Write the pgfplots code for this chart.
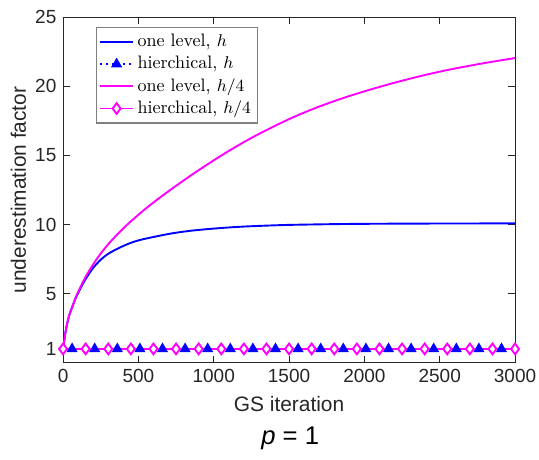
\documentclass[border=0pt]{standalone}
\usepackage{fontspec}
\setsansfont{Liberation Sans}
\usepackage{pgfplots}
\pgfplotsset{compat=1.18}

\definecolor{mblue}{RGB}{0,0,255}
\definecolor{mmag}{RGB}{255,0,255}
\definecolor{axgray}{RGB}{38,38,38}

\pgfplotstableread{
x y
0 1
10 1.75
20 2.45
40 3.4
60 4.0
89 4.8
144 5.95
199 6.85
250 7.45
310 7.95
421 8.55
518 8.9
708 9.33
850 9.55
1018 9.72
1200 9.85
1461 9.96
1700 10.01
1903 10.04
2200 10.06
2500 10.07
3000 10.08
}\onelevelh

\pgfplotstableread{
x y
0 1
10 1.75
20 2.45
40 3.4
60 4.0
89 4.85
144 6.1
199 7.1
250 7.9
310 8.7
380 9.5
443 10.16
550 11.16
664 12.12
775 12.99
885 13.82
1000 14.64
1106 15.36
1220 16.08
1327 16.70
1440 17.31
1549 17.86
1660 18.36
1770 18.81
1880 19.22
1991 19.60
2100 19.95
2212 20.29
2367 20.72
2490 21.03
2610 21.30
2800 21.68
3000 22.04
}\onelevelhq

\begin{document}
\begin{tikzpicture}
\begin{axis}[
    scale only axis,
    width=238pt,
    height=182pt,
    xmin=0, xmax=3000,
    ymin=0, ymax=25,
    xtick={0,500,1000,1500,2000,2500,3000},
    ytick={1,5,10,15,20,25},
    scaled x ticks=false,
    tick align=inside,
    major tick length=3.5pt,
    axis line style={axgray},
    every tick/.style={axgray},
    /pgf/number format/assume math mode=true,
    /pgf/number format/1000 sep={},
    tick label style={font=\sffamily\fontsize{10}{12}\selectfont, text=axgray},
    xlabel={GS iteration},
    ylabel={underestimation factor},
    label style={font=\sffamily\fontsize{11}{13}\selectfont, text=axgray},
    xlabel style={yshift=0pt},
    ylabel style={yshift=-2pt},
    legend style={at={(0.073,0.971)}, anchor=north west, draw=gray, line width=0.6pt,
        font=\fontsize{9.5}{11}\selectfont, inner sep=1.5pt, row sep=-0.5pt,
        legend cell align=left},
    legend image code/.code={
        \draw[mark repeat=2,mark phase=2] plot coordinates {(0cm,0cm) (0.3cm,0cm) (0.6cm,0cm)};
    },
]
\addplot[mblue, line width=1pt, smooth] table {\onelevelh};
\addlegendentry{one level, $h$}
% dotted line of the hierarchical h run, its markers come next
\addplot[mblue, line width=1pt, dotted, forget plot] coordinates {(0,1) (3000,1)};
\addplot[mblue, only marks, line width=1pt, mark=triangle*, mark size=2.4pt,
    mark options={solid, fill=mblue},
    legend image code/.code={
        \draw[mblue, line width=1pt, dotted] (0cm,0cm) -- (0.6cm,0cm);
        \draw[mblue, line width=1pt, solid, fill=mblue] plot[mark=triangle*, mark size=2.4pt] coordinates {(0.3cm,0cm)};
    }] coordinates {
(60,1) (210,1) (360,1) (510,1) (660,1) (810,1) (960,1) (1110,1) (1260,1)
(1410,1) (1560,1) (1710,1) (1860,1) (2010,1) (2160,1) (2310,1) (2460,1) (2610,1)
(2760,1) (2910,1)};
\addlegendentry{hierchical, $h$}
\addplot[mmag, line width=1pt, smooth] table {\onelevelhq};
\addlegendentry{one level, $h/4$}
\addplot[mmag, line width=1pt, mark=diamond*, mark size=2.8pt,
    mark options={solid, fill=white}] coordinates {
(0,1) (150,1) (300,1) (450,1) (600,1) (750,1) (900,1) (1050,1) (1200,1) (1350,1)
(1500,1) (1650,1) (1800,1) (1950,1) (2100,1) (2250,1) (2400,1) (2550,1) (2700,1)
(2850,1) (3000,1)};
\addlegendentry{hierchical, $h/4$}
\end{axis}
\node[font=\sffamily\fontsize{13.5}{16}\selectfont, text=black] at (119.6pt,-40pt) {\textit{p} = 1};
\pgfresetboundingbox
\path[use as bounding box] (-33.2pt,-51.1pt) rectangle (250.6pt,191pt);
\end{tikzpicture}
\end{document}
